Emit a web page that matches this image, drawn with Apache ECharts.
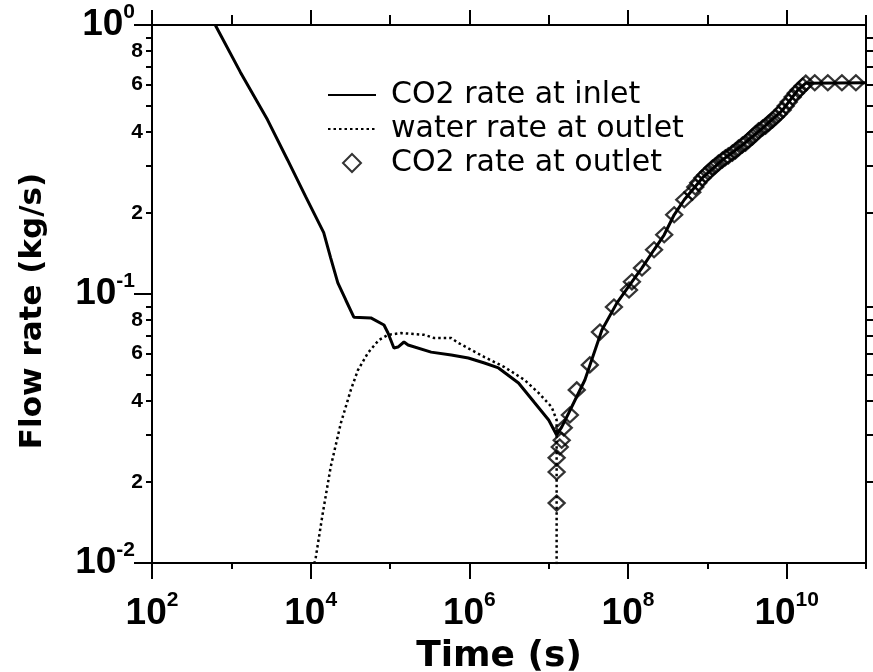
<!DOCTYPE html>
<html><head><meta charset="utf-8">
<script src="https://cdn.jsdelivr.net/npm/echarts@6/dist/echarts.min.js"></script>
<style>html,body{margin:0;padding:0;background:#fff}#c{width:873px;height:672px}</style>
</head><body><div id="c"></div>
<script>
// ---- data (time in s, rate in kg/s) ----
const inletTime = [627,1300,2860,5120,8650,14600,17900,22000,27700,35000,57400,84000,94400,1.12e5,1.26e5,1.50e5,1.69e5,3.30e5,5.92e5,9.71e5,1.55e6,2.33e6,4.17e6,6.65e6,1.0e7,1.26e7,1.46e7,1.79e7,2.86e7,4.69e7,7.26e7,1.12e8,1.50e8,2.13e8,2.86e8,3.82e8,5.12e8,8.65e8,1.55e9,2.77e9,4.97e9,8.90e9,1.38e10,1.74e10,1e11];
const inletRate = [1.0,0.668,0.444,0.315,0.230,0.169,0.136,0.110,0.095,0.082,0.0815,0.0767,0.0716,0.063,0.0635,0.0663,0.0646,0.0608,0.0593,0.0578,0.0554,0.0531,0.0467,0.0394,0.034,0.0299,0.032,0.0361,0.0479,0.0735,0.0927,0.111,0.125,0.146,0.166,0.197,0.224,0.270,0.315,0.358,0.414,0.483,0.573,0.608,0.61];

const waterTime = [10700,11600,14200,17900,24000,32100,39400,52700,72600,94400,1.38e5,2.69e5,3.61e5,5.92e5,7.26e5,1.55e6,2.77e6,4.97e6,7.46e6,1.09e7,1.26e7,1.26e7];
const waterRate = [0.0095,0.0105,0.0153,0.0228,0.0331,0.044,0.0521,0.0604,0.0675,0.0705,0.0716,0.0705,0.0686,0.0686,0.0658,0.0583,0.0535,0.0479,0.0429,0.038,0.034,0.009];

const outletTime = [1.26e7,1.26e7,1.26e7,1.38e7,1.46e7,1.55e7,1.85e7,2.26e7,3.30e7,4.43e7,6.65e7,1.03e8,1.12e8,1.50e8,2.13e8,2.86e8,3.82e8,5.12e8,
  6.46e8,7.05e8,7.69e8,8.65e8,9.44e8,1.03e9,1.16e9,1.26e9,1.38e9,1.55e9,1.69e9,1.84e9,2.07e9,2.26e9,2.47e9,2.77e9,3.03e9,3.30e9,3.71e9,4.05e9,4.42e9,4.97e9,5.42e9,5.92e9,6.65e9,7.26e9,7.92e9,8.90e9,9.71e9,1.06e10,1.19e10,1.30e10,1.42e10,1.59e10,1.74e10,
  2.26e10,3.30e10,4.97e10,7.46e10];
const outletRate = [0.0167,0.0218,0.0246,0.0270,0.0286,0.0318,0.0355,0.0440,0.0545,0.0722,0.0895,0.1035,0.111,0.125,0.146,0.166,0.197,0.224,
  0.239,0.250,0.259,0.270,0.277,0.284,0.294,0.299,0.307,0.315,0.321,0.326,0.334,0.340,0.349,0.358,0.364,0.373,0.384,0.394,0.404,0.414,0.421,0.432,0.444,0.455,0.467,0.483,0.500,0.517,0.540,0.558,0.573,0.593,0.608,
  0.61,0.61,0.61,0.61];

const xDecadeTicks = [1e2,1e3,1e4,1e5,1e6,1e7,1e8,1e9,1e10,1e11];
const xLabelValues = [1e2,1e4,1e6,1e8,1e10];
const yMinorTicks = [0.02,0.03,0.04,0.05,0.06,0.07,0.08,0.09,0.2,0.3,0.4,0.5,0.6,0.7,0.8,0.9];
const yMinorLabels = [0.02,0.04,0.06,0.08,0.2,0.4,0.6,0.8];
const yDecades = [0.01,0.1,1];

const seriesNames = ['CO2 rate at inlet','water rate at outlet','CO2 rate at outlet'];

function pairs(a,b){return a.map((v,i)=>[v,b[i]]);}
const FONT = 'DejaVu Sans';
const TFONT = 'Liberation Sans';
function expo(v){return Math.round(Math.log10(v));}
function decadeLabel(v){return '{b|10}{s|'+expo(v)+'}';}
function minorLabel(v){const e=Math.floor(Math.log10(v)+1e-9);return '{m|'+Math.round(v/Math.pow(10,e))+'}';}
const richTxt = {
  b:{fontSize:37,fontWeight:'bold',fontFamily:TFONT,color:'#000'},
  s:{fontSize:21,fontWeight:'bold',fontFamily:TFONT,color:'#000',padding:[0,0,26,0]},
  m:{fontSize:21,fontWeight:'bold',fontFamily:TFONT,color:'#000'}
};
const axLine = {show:true,lineStyle:{color:'#000',width:2}};

const chart = echarts.init(document.getElementById('c'),null,{renderer:'canvas'});
chart.setOption({
  animation:false,
  backgroundColor:'#fff',
  grid:{left:152,right:7,top:25,bottom:109,containLabel:false,outerBoundsMode:'none'},
  legend:{
    orient:'vertical',left:327,top:80,padding:0,itemWidth:48,itemHeight:18,itemGap:4,
    symbolKeepAspect:true,
    textStyle:{fontSize:30,fontFamily:FONT,color:'#000',padding:[0,0,0,10],lineHeight:28},
    data:[
      {name:seriesNames[0],itemStyle:{opacity:0}},
      {name:seriesNames[1],itemStyle:{opacity:0}},
      {name:seriesNames[2],icon:'path://M0,-1L1,0L0,1L-1,0Z'}
    ]
  },
  xAxis:[
    {type:'log',logBase:10,min:1e2,max:1e11,position:'bottom',axisLine:axLine,
     axisTick:{show:true,customValues:xDecadeTicks,length:6,lineStyle:{color:'#000',width:2}},
     axisLabel:{show:false},splitLine:{show:false},
     name:'Time (s)',nameLocation:'middle',nameGap:76,
     nameTextStyle:{fontSize:36,fontWeight:'bold',fontFamily:FONT,color:'#000',verticalAlign:'top',padding:[0,20,0,0]}},
    {type:'log',logBase:10,min:1e2,max:1e11,position:'bottom',axisLine:{show:false},
     axisTick:{show:true,customValues:xLabelValues,length:16,lineStyle:{color:'#000',width:2}},
     axisLabel:{show:true,customValues:xLabelValues,margin:27,formatter:decadeLabel,rich:richTxt},
     splitLine:{show:false}},
    {type:'log',logBase:10,min:1e2,max:1e11,position:'top',axisLine:axLine,
     axisTick:{show:true,customValues:xDecadeTicks,length:10,lineStyle:{color:'#000',width:2}},
     axisLabel:{show:false},splitLine:{show:false}},
    {type:'log',logBase:10,min:1e2,max:1e11,position:'top',axisLine:{show:false},
     axisTick:{show:true,customValues:xLabelValues,length:15,lineStyle:{color:'#000',width:2}},
     axisLabel:{show:false},splitLine:{show:false}}
  ],
  yAxis:[
    {type:'log',logBase:10,min:0.01,max:1,position:'left',axisLine:axLine,
     axisTick:{show:true,customValues:yMinorTicks,length:6,lineStyle:{color:'#000',width:2}},
     axisLabel:{show:true,customValues:yMinorLabels,margin:9,formatter:minorLabel,rich:richTxt},
     splitLine:{show:false},
     name:'Flow rate (kg/s)',nameLocation:'middle',nameRotate:90,nameGap:104,
     nameTextStyle:{fontSize:31,fontWeight:'bold',fontFamily:FONT,color:'#000',padding:[0,34,0,0]}},
    {type:'log',logBase:10,min:0.01,max:1,position:'left',axisLine:{show:false},
     axisTick:{show:true,customValues:yDecades,length:18,lineStyle:{color:'#000',width:2}},
     axisLabel:{show:true,customValues:yDecades,margin:17,formatter:decadeLabel,rich:richTxt},
     splitLine:{show:false}},
    {type:'log',logBase:10,min:0.01,max:1,position:'right',axisLine:axLine,
     axisTick:{show:true,customValues:yMinorTicks,length:8,lineStyle:{color:'#000',width:2}},
     axisLabel:{show:false},splitLine:{show:false}}
  ],
  series:[
    {name:seriesNames[0],type:'line',xAxisIndex:0,yAxisIndex:0,data:pairs(inletTime,inletRate),
     symbol:'none',clip:true,lineStyle:{color:'#000',width:3},itemStyle:{color:'#000'},z:3},
    {name:seriesNames[1],type:'line',xAxisIndex:0,yAxisIndex:0,data:pairs(waterTime,waterRate),
     symbol:'none',clip:true,lineStyle:{color:'#000',width:2.5,type:[2.5,3]},itemStyle:{color:'#000'},z:2},
    {name:seriesNames[2],type:'scatter',xAxisIndex:0,yAxisIndex:0,data:pairs(outletTime,outletRate),
     symbol:'diamond',symbolSize:[16,15],clip:true,
     itemStyle:{color:'rgba(255,255,255,0)',borderColor:'#000',borderWidth:2.3},z:4}
  ]
});
</script></body></html>
